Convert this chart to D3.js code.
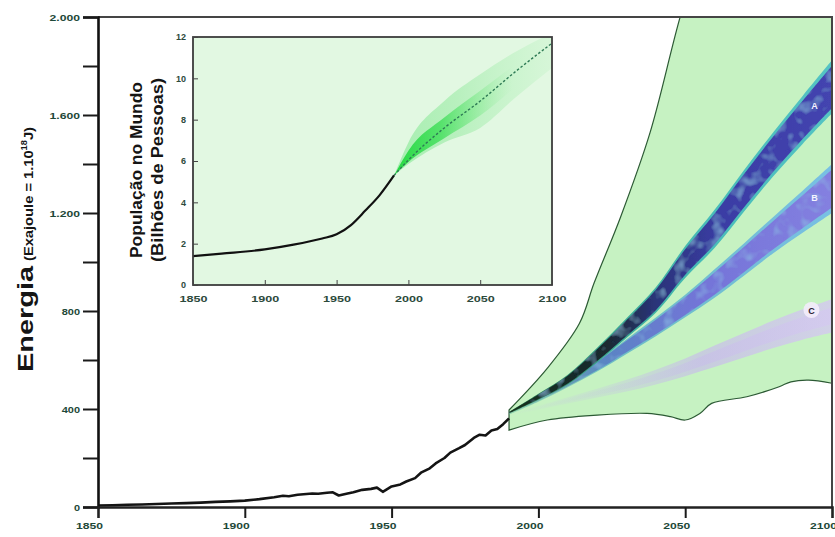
<!DOCTYPE html>
<html><head><meta charset="utf-8">
<script src="https://cdn.jsdelivr.net/npm/d3@7"></script>
<style>
html,body{margin:0;padding:0;background:#fff;}
svg{display:block;}
text{font-family:"Liberation Sans Narrow","Arial Narrow","Liberation Sans",Arial,sans-serif;font-weight:bold;}
</style></head>
<body>
<svg id="chart" width="835" height="537"></svg>
<script>
// ---------- DATA ----------
const energyYears = [1850,1855,1860,1865,1870,1875,1880,1885,1890,1895,1900,1905,1910,1913,1915,1918,1920,1923,1925,1928,1930,1932,1935,1937,1940,1943,1945,1947,1950,1953,1955,1958,1960,1963,1965,1968,1970,1973,1975,1978,1980,1982,1984,1986,1988,1990];
const energyValues = [6,7,9,10,12,14,16,18,21,23,26,32,40,46,44,50,52,55,54,58,60,47,55,60,70,74,79,62,84,92,104,118,140,158,178,200,222,240,253,282,295,292,312,318,338,362];

const fanUpperYears = [1990,2003,2014,2019,2028,2038,2048,2060,2100];
const fanUpper = [396,566,750,915,1184,1527,1988,2480,4000];
const fanLowerYears = [1990,2003,2020,2037,2045,2050,2055,2059,2071,2082,2086,2092,2100];
const fanLower = [314,355,375,382,369,355,382,423,450,491,511,518,505];

const bandYears = [1990,2000,2010,2020,2030,2040,2050,2060,2070,2080,2090,2100];
const scenA = [385,450,520,620,730,845,1000,1135,1290,1440,1580,1715];
const scenAHalf = [3,12,20,30,40,52,65,78,85,90,98,108];
const scenB = [380,440,505,575,655,735,820,912,1010,1110,1205,1300];
const scenBHalf = [3,10,16,22,30,38,46,58,66,74,86,100];
const scenC = [375,405,435,465,495,530,570,615,660,705,745,780];
const scenCHalf = [3,8,13,18,24,30,36,44,50,56,62,68];
const scenLabels = ["A","B","C"];

const xTicks = [1850,1900,1950,2000,2050,2100];
const yTicksMajor = [0,400,800,1200,1600,2000];
const yTicksMinor = [200,600,1000,1400,1800];

const popYears = [1850,1870,1900,1920,1940,1950,1960,1970,1980,1990];
const popValues = [1.40,1.52,1.72,1.95,2.25,2.45,2.90,3.60,4.35,5.30];
const projYears = [1990,2000,2025,2050,2075,2100];
const projMid = [5.3,6.05,7.6,8.9,10.35,11.7];
const projOuterLow = [5.3,5.85,6.9,7.6,9.1,10.5];
const projOuterHigh = [5.3,6.9,8.9,10.2,11.3,12.2];
const projInnerLow = [5.3,5.95,7.1,8.2,9.6,10.9];
const projInnerHigh = [5.3,6.5,8.1,9.4,10.7,11.9];
const insetXTicks = [1850,1900,1950,2000,2050,2100];
const insetYTicks = [0,2,4,6,8,10,12];

// ---------- SETUP ----------
const svg = d3.select("#chart");
const defs = svg.append("defs");
const x = d3.scaleLinear().domain([1850,2100]).range([98,832]);
const y = d3.scaleLinear().domain([0,2000]).range([507,17]);
const loc = d3.formatLocale({decimal:",",thousands:".",grouping:[3],currency:["",""]});
const fmt = loc.format(",d");
const tickColor = "#1e4838";

defs.append("clipPath").attr("id","plotClip").append("rect")
  .attr("x",98).attr("y",17).attr("width",734).attr("height",490);

function hGrad(id, stops){
  const g = defs.append("linearGradient").attr("id",id)
    .attr("gradientUnits","userSpaceOnUse")
    .attr("x1",x(1990)).attr("x2",x(2100)).attr("y1",0).attr("y2",0);
  stops.forEach(s=>g.append("stop").attr("offset",s[0]).attr("stop-color",s[1]).attr("stop-opacity",s[2]===undefined?1:s[2]));
}
hGrad("gAfringe",[[0,"#2f7a4a"],[0.3,"#3aa890"],[0.6,"#48bcb8"],[1,"#54c4c4"]]);
hGrad("gAcore",[[0,"#14301c"],[0.3,"#1a2a30"],[0.45,"#2a3478"],[0.65,"#3a3ca4"],[1,"#4444b0"]]);
hGrad("gBfringe",[[0,"#70c8a0",0.4],[0.3,"#64b8c4",0.9],[1,"#78c0e4"]]);
hGrad("gBcore",[[0,"#5a9a9a",0.25],[0.3,"#5a84c4"],[0.6,"#7474d8"],[1,"#8480e0"]]);
hGrad("gC",[[0,"#c8bcec",0],[0.3,"#c4b8ec",0.3],[0.6,"#c8b4f0",0.75],[1,"#d6c4f6",0.9]]);

// mottled texture filter
const f = defs.append("filter").attr("id","mottle").attr("x","0").attr("y","0").attr("width","1").attr("height","1");
f.append("feTurbulence").attr("type","fractalNoise").attr("baseFrequency","0.08").attr("numOctaves",2).attr("seed",4).attr("result","n");
f.append("feColorMatrix").attr("in","n").attr("type","matrix")
  .attr("values","0 0 0 0 0.28  0 0 0 0 0.55  0 0 0 0 0.80  0 0 0 1.4 -0.7").attr("result","spots");
f.append("feComposite").attr("in","spots").attr("in2","SourceGraphic").attr("operator","in").attr("result","s2");
const fm = f.append("feMerge"); fm.append("feMergeNode").attr("in","SourceGraphic"); fm.append("feMergeNode").attr("in","s2");

// ---------- FAN ----------
const plot = svg.append("g").attr("clip-path","url(#plotClip)");
const lineCR = d3.line().curve(d3.curveCatmullRom.alpha(0.5));
const upPts = fanUpperYears.map((d,i)=>[x(d),y(fanUpper[i])]);
const loPts = fanLowerYears.map((d,i)=>[x(d),y(fanLower[i])]);
const fanPath = lineCR(upPts) + "L" + lineCR(loPts.slice().reverse()).slice(1) + "Z";
plot.append("path").attr("d",fanPath).attr("fill","#c6f2c2").attr("stroke","#2c5a34").attr("stroke-width",1.2);

const bandArea = (c,h) => d3.area().curve(d3.curveCatmullRom)
  .x((d,i)=>x(bandYears[i])).y0((d,i)=>y(c[i]-h[i])).y1((d,i)=>y(c[i]+h[i]));
const scale = (arr,k)=>arr.map(v=>v*k);

// C
plot.append("path").datum(bandYears).attr("d",bandArea(scenC,scenCHalf)).attr("fill","url(#gC)").attr("opacity",0.8);
plot.append("path").datum(bandYears).attr("d",bandArea(scenC,scale(scenCHalf,0.5))).attr("fill","url(#gC)").attr("opacity",0.5);
// B
plot.append("path").datum(bandYears).attr("d",bandArea(scenB,scenBHalf)).attr("fill","url(#gBfringe)");
plot.append("path").datum(bandYears).attr("d",bandArea(scenB,scale(scenBHalf,0.78))).attr("fill","url(#gBcore)").attr("filter","url(#mottle)");
// A
plot.append("path").datum(bandYears).attr("d",bandArea(scenA,scenAHalf)).attr("fill","url(#gAfringe)");
plot.append("path").datum(bandYears).attr("d",bandArea(scenA,scale(scenAHalf,0.8))).attr("fill","url(#gAcore)").attr("filter","url(#mottle)");

// scenario labels
const lastA = scenA[scenA.length-1], lastB = scenB[scenB.length-1], lastC = scenC[scenC.length-1];
svg.append("text").attr("x",x(2094)).attr("y",y(lastA-90)).attr("text-anchor","middle")
  .attr("font-size",9).attr("fill","#f4f4ff").text(scenLabels[0]);
svg.append("text").attr("x",x(2094)).attr("y",y(lastB-50)).attr("text-anchor","middle")
  .attr("font-size",9).attr("fill","#f4f4ff").text(scenLabels[1]);
svg.append("circle").attr("cx",x(2093)).attr("cy",y(lastC+24)).attr("r",8).attr("fill","#f3ecfb").attr("opacity",0.9);
svg.append("text").attr("x",x(2093)).attr("y",y(lastC+24)+3.5).attr("text-anchor","middle")
  .attr("font-size",9).attr("fill","#2a2030").text(scenLabels[2]);

// ---------- HISTORICAL ENERGY ----------
svg.append("path").datum(energyYears)
  .attr("d",d3.line().x(d=>x(d)).y((d,i)=>y(energyValues[i])))
  .attr("fill","none").attr("stroke","#141414").attr("stroke-width",2.6).attr("stroke-linejoin","round");

// ---------- FRAME & AXES ----------
svg.append("path").attr("d",`M${x(1850)},${y(2000)}H${x(2100)}V${y(0)}`)
  .attr("fill","none").attr("stroke","#454545").attr("stroke-width",2);

const majorSet = new Set(yTicksMajor);
const yAxis = d3.axisLeft(y).tickValues(yTicksMajor.concat(yTicksMinor)).tickSize(15).tickPadding(3)
  .tickFormat(v=>majorSet.has(v)?fmt(v):"");
const yAxisG = svg.append("g").attr("transform",`translate(${x(1850)},0)`).call(yAxis);
yAxisG.select(".domain").attr("stroke","#111").attr("stroke-width",2.6);
yAxisG.selectAll(".tick line").attr("stroke","#1a1a1a").attr("stroke-width",2);
yAxisG.selectAll(".tick text").attr("font-family",null).attr("font-size",9.5).attr("fill",tickColor)
  .attr("dy","0.32em").attr("x",-18)
  .each(function(){ const s=this.textContent; if(s) d3.select(this).attr("textLength",s.length*6.1).attr("lengthAdjust","spacingAndGlyphs"); });

const xAxis = d3.axisBottom(x).tickValues(xTicks).tickSize(11).tickFormat(d=>d);
const xAxisG = svg.append("g").attr("transform",`translate(0,${y(0)})`).call(xAxis);
xAxisG.select(".domain").attr("stroke","#222").attr("stroke-width",2.6);
xAxisG.selectAll(".tick line").attr("stroke","#1a1a1a").attr("stroke-width",2)
  .attr("opacity",d=>(d>1850&&d<2100)?1:0);
xAxisG.selectAll(".tick text").attr("font-family",null).attr("font-size",9.5).attr("fill",tickColor)
  .attr("x",-9).attr("y",22).attr("dy",0).attr("textLength",27).attr("lengthAdjust","spacingAndGlyphs");

// Y title
const yt = svg.append("g").attr("transform","translate(33,372) rotate(-90)");
yt.append("text").attr("x",0).attr("y",0).attr("font-size",22).attr("fill","#151515")
  .attr("textLength",106).attr("lengthAdjust","spacingAndGlyphs").text("Energia");
const yt2 = yt.append("text").attr("x",111).attr("y",0).attr("font-size",13.5).attr("fill","#151515")
  .attr("textLength",134).attr("lengthAdjust","spacingAndGlyphs");
yt2.append("tspan").text("(Exajoule = 1.10");
yt2.append("tspan").attr("dy",-6).attr("font-size",8.5).text("18");
yt2.append("tspan").attr("dy",6).text("J)");

// ---------- INSET ----------
const ix = d3.scaleLinear().domain([1850,2100]).range([193,552]);
const iy = d3.scaleLinear().domain([0,12]).range([285,37]);
const inset = svg.append("g");
defs.append("clipPath").attr("id","insetClip").append("rect")
  .attr("x",193).attr("y",37).attr("width",359).attr("height",248);
inset.append("rect").attr("x",193).attr("y",37).attr("width",359).attr("height",248).attr("fill","#e2f8e2");

function ihGrad(id, stops){
  const g = defs.append("linearGradient").attr("id",id).attr("gradientUnits","userSpaceOnUse")
    .attr("x1",ix(1990)).attr("x2",ix(2100)).attr("y1",0).attr("y2",0);
  stops.forEach(s=>g.append("stop").attr("offset",s[0]).attr("stop-color",s[1]).attr("stop-opacity",s[2]));
}
ihGrad("giOuter",[[0,"#7ee88e",0.6],[0.4,"#8ee89a",0.5],[0.8,"#a8eeb0",0.35],[1,"#b4f0ba",0.25]]);
ihGrad("giInner",[[0,"#1ed83c",0.95],[0.3,"#30dc4c",0.7],[0.55,"#58e46a",0.3],[0.75,"#80ea8a",0]]);
const ig = inset.append("g").attr("clip-path","url(#insetClip)");
const iArea = (lo,hi)=>d3.area().curve(d3.curveMonotoneX)
  .x((d,i)=>ix(projYears[i])).y0((d,i)=>iy(lo[i])).y1((d,i)=>iy(hi[i]));
ig.append("path").datum(projYears).attr("d",iArea(projOuterLow,projOuterHigh)).attr("fill","url(#giOuter)");
ig.append("path").datum(projYears).attr("d",iArea(projInnerLow,projInnerHigh)).attr("fill","url(#giInner)");
ig.append("path").datum(projYears)
  .attr("d",d3.line().curve(d3.curveMonotoneX).x(d=>ix(d)).y((d,i)=>iy(projMid[i])))
  .attr("fill","none").attr("stroke","#2e7a55").attr("stroke-width",1.4).attr("stroke-dasharray","2.5,2");
ig.append("path").datum(popYears)
  .attr("d",d3.line().curve(d3.curveMonotoneX).x(d=>ix(d)).y((d,i)=>iy(popValues[i])))
  .attr("fill","none").attr("stroke","#111").attr("stroke-width",2.2);
inset.append("rect").attr("x",193).attr("y",37).attr("width",359).attr("height",248)
  .attr("fill","none").attr("stroke","#3c3c3c").attr("stroke-width",1.8);

const iyAxis = d3.axisRight(iy).tickValues(insetYTicks).tickSize(5).tickFormat(d=>d);
const iyG = inset.append("g").attr("transform","translate(193,0)").call(iyAxis);
iyG.select(".domain").remove();
iyG.selectAll(".tick line").attr("stroke","#444");
iyG.selectAll(".tick text").attr("font-family",null).attr("font-weight","normal").attr("font-size",9)
  .attr("fill","#2d4a3c").attr("text-anchor","end").attr("x",-7);
const ixAxis = d3.axisTop(ix).tickValues(insetXTicks).tickSize(5).tickFormat(d=>d);
const ixG = inset.append("g").attr("transform","translate(0,285)").call(ixAxis);
ixG.select(".domain").remove();
ixG.selectAll(".tick line").attr("stroke","#444");
ixG.selectAll(".tick text").attr("font-family",null).attr("font-size",9).attr("fill","#2d4a3c")
  .attr("y",17).attr("dy",0).attr("textLength",28).attr("lengthAdjust","spacingAndGlyphs");

const it = inset.append("g").attr("transform","translate(0,170) rotate(-90)");
it.append("text").attr("x",0).attr("y",142).attr("text-anchor","middle").attr("font-size",17).attr("fill","#151515")
  .attr("textLength",176).attr("lengthAdjust","spacingAndGlyphs").text("População no Mundo");
it.append("text").attr("x",0).attr("y",163).attr("text-anchor","middle").attr("font-size",17).attr("fill","#151515")
  .attr("textLength",184).attr("lengthAdjust","spacingAndGlyphs").text("(Bilhões de Pessoas)");
</script>
</body></html>
